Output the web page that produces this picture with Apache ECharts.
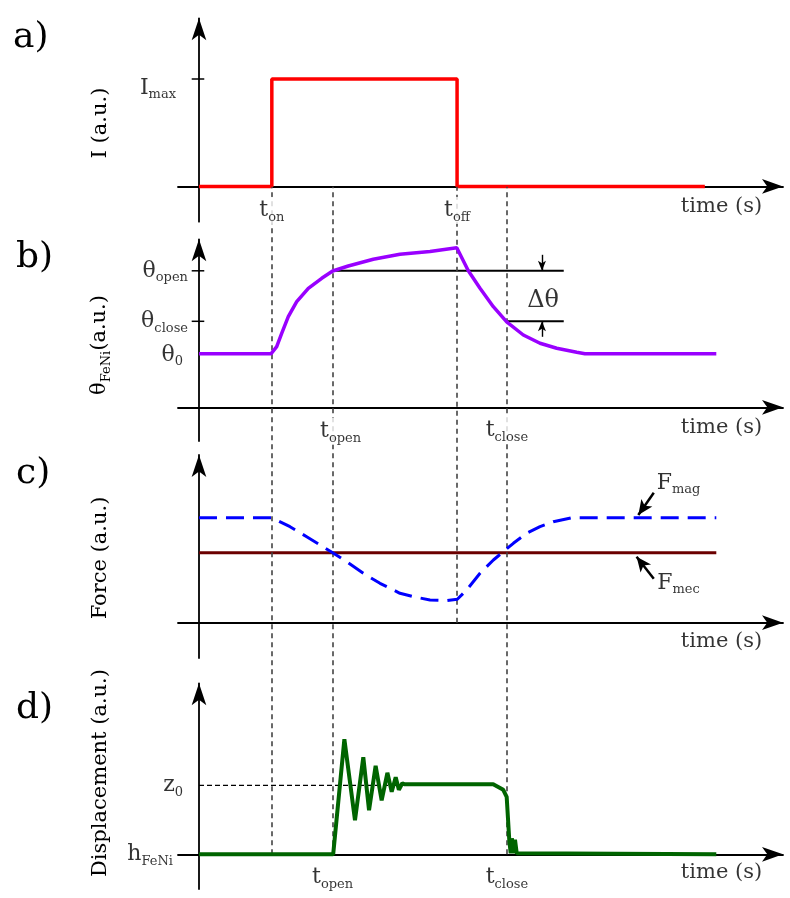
<!DOCTYPE html>
<html><head><meta charset="utf-8">
<script src="https://cdn.jsdelivr.net/npm/echarts@6/dist/echarts.min.js"></script>
<style>html,body{margin:0;padding:0;background:#fff}#c{width:790px;height:898px}</style>
</head><body><div id="c"></div>
<script>
// ---------------- data ----------------
const eventNames = ['on', 'open', 'off', 'close'];
const eventTimes = [12.7, 23.3, 45.0, 53.7];

const currentT = [0, 12.7, 12.7, 45.0, 45.0, 88.2];
const currentI = [0, 0, 1, 1, 0, 0];
const Imax = 1;

const thetaT = [0, 12.55, 13.55, 14.42, 15.57, 17.04, 19.06, 21.4, 23.31, 26.03, 30.39, 35.04, 40.28, 44.95, 46.96, 49.0, 51.32, 53.65, 56.55, 59.46, 62.37, 65.86, 67.3, 90.2];
const thetaV = [5.35, 5.35, 6.06, 7.4, 9.06, 10.56, 11.9, 12.9, 13.63, 14.13, 14.8, 15.3, 15.58, 15.96, 13.66, 11.9, 10.06, 8.55, 7.23, 6.4, 5.9, 5.5, 5.35, 5.35];
const theta0 = 5.35, thetaClose = 8.6, thetaOpen = 13.65;
const thetaLineEnd = 63.6;
const dThetaX = 59.8, dThetaTop = 15.25, dThetaBottom = 7.05;

const fmagT = [0, 12.68, 15.87, 18.78, 21.1, 23.31, 25.75, 28.65, 31.56, 35.04, 37.37, 40.28, 43.19, 45.04, 46.67, 49.0, 51.33, 53.06, 54.81, 57.14, 59.46, 61.78, 64.99, 90.2];
const fmagV = [10.5, 10.5, 9.6, 8.6, 7.77, 7.0, 6.1, 4.94, 3.94, 2.94, 2.6, 2.27, 2.2, 2.34, 3.27, 4.94, 6.27, 7.1, 7.94, 8.94, 9.6, 10.1, 10.5, 10.5];
const fmecT = [0, 90.2];
const fmecV = [7.0, 7.0];
const fmagArrow = [[79.3, 13.0], [76.6, 10.77]];
const fmecArrow = [[79.3, 4.4], [76.3, 6.6]];

const dispT = [0, 23.4, 25.35, 27.2, 28.65, 29.65, 30.8, 31.85, 32.85, 33.6, 34.3, 34.85, 35.45, 35.9, 51.3, 53.05, 53.65, 54.1, 54.35, 54.55, 54.8, 55.1, 55.4, 55.6, 90.2];
const dispV = [0, 0, 11.5, 3.4, 9.7, 4.4, 8.85, 5.4, 8.15, 6.25, 7.7, 6.45, 7.1, 7.0, 7.0, 6.45, 5.75, 1.45, 0.1, 1.6, 0.1, 1.45, 0.1, 0, 0];
const z0 = 6.9, z0LineEnd = 36;

const panelLetters = ['a)', 'b)', 'c)', 'd)'];
const yTitles = ['I (a.u.)', '{m|θ}{s|FeNi}{m|(a.u.)}', 'Force (a.u.)', 'Displacement (a.u.)'];
const xTitle = 'time (s)';
const tLabel = n => '{m|t}{s|' + n + '}';

// ---------------- layout / style ----------------
const FONT = 'DejaVu Serif';
const xMin = -3.66, xMax = 101.83;
const GL = 178, GW = 605;
const panels = [
  {top: 18.3, height: 203.4, min: -0.328, max: 1.564},
  {top: 239.3, height: 201.7, min: -3.37, max: 16.8},
  {top: 455, height: 203, min: -3.53, max: 16.77},
  {top: 683.3, height: 205.7, min: -3.47, max: 17.1},
  {top: 186.7, height: 667.6, min: 0, max: 1},
  {top: 186.7, height: 436, min: 0, max: 1}
];
const R = {
  m: {fontFamily: FONT, fontSize: 22, color: '#000', lineHeight: 27},
  s: {fontFamily: FONT, fontSize: 13, color: '#000', lineHeight: 13, padding: [14, 0, 0, 0]}
};
const RT = {
  m: {fontFamily: FONT, fontSize: 21, color: '#000', lineHeight: 26},
  s: {fontFamily: FONT, fontSize: 13, color: '#000', lineHeight: 13, padding: [13, 0, 0, 0]}
};
const zip = (a, b) => a.map((v, i) => [v, b[i]]);

const grid = panels.map(p => ({left: GL, width: GW, top: p.top, height: p.height}));
const xAxis = panels.map((p, i) => ({
  gridIndex: i, type: 'value', min: xMin, max: xMax, show: i < 4,
  axisLine: {onZero: true, symbol: ['none', 'arrow'], symbolSize: [11, 21], lineStyle: {color: '#000', width: 1.8}},
  axisTick: {show: false}, axisLabel: {show: false}, splitLine: {show: false}
}));
const yAxis = panels.map((p, i) => ({
  gridIndex: i, type: 'value', min: p.min, max: p.max, show: i < 4,
  axisLine: {onZero: true, symbol: ['none', 'arrow'], symbolSize: [11, 22], lineStyle: {color: '#000', width: 1.8}},
  axisTick: {show: false}, axisLabel: {show: false}, splitLine: {show: false}
}));

function seg(gi, pts, color, width, type, z) {
  return {type: 'line', xAxisIndex: gi, yAxisIndex: gi, data: pts, showSymbol: false, symbol: 'none', silent: true,
    clip: false, z: z || 3, lineStyle: {color: color, width: width, type: type || 'solid'}};
}
function arrows(gi, list, size, width) {
  return {type: 'line', xAxisIndex: gi, yAxisIndex: gi, data: [], silent: true, z: 4,
    markLine: {silent: true, animation: false, symbol: ['none', 'arrow'], symbolSize: size, label: {show: false},
      lineStyle: {color: '#000', width: width, type: 'solid'},
      data: list.map(a => [{coord: a[0]}, {coord: a[1]}])}};
}
function lbl(text, x, y, pos, extra) {
  return {value: [x, y], label: Object.assign({show: true, formatter: text, position: pos, rich: R,
    color: '#000', fontFamily: FONT, fontSize: 21}, extra || {})};
}
function labels(gi, items) {
  return {type: 'scatter', xAxisIndex: gi, yAxisIndex: gi, symbolSize: 0, silent: true, z: 10, clip: false, data: items};
}
const WB = {backgroundColor: '#fff', padding: [0, 1]};
function vlines(gi, times) {
  return {type: 'line', xAxisIndex: gi, yAxisIndex: gi, data: [[0, 0.5]], showSymbol: false, symbol: 'none',
    lineStyle: {width: 0, opacity: 0}, silent: true, z: 1,
    markLine: {silent: true, animation: false, symbol: 'none', label: {show: false},
      lineStyle: {type: [5, 4], color: '#444', width: 1.6}, data: times.map(t => ({xAxis: t}))}};
}

const series = [
  vlines(4, [eventTimes[0], eventTimes[1], eventTimes[3]]),
  vlines(5, [eventTimes[2]]),
  // a) current
  seg(0, zip(currentT, currentI), '#ff0000', 3.5),
  seg(0, [[-1.27, Imax], [0.92, Imax]], '#000', 1.5),
  labels(0, [
    lbl('{m|I}{s|max}', 0, Imax, 'left', {distance: 23, offset: [0, 9]}),
    lbl(tLabel(eventNames[0]), eventTimes[0], 0, 'inside', Object.assign({offset: [0, 24]}, WB)),
    lbl(tLabel(eventNames[2]), eventTimes[2], 0, 'inside', Object.assign({offset: [0, 24]}, WB)),
    lbl(xTitle, 98.2, 0, 'left', {distance: 0, offset: [0, 20]})
  ]),
  // b) temperature
  seg(1, [[eventTimes[1], thetaOpen], [thetaLineEnd, thetaOpen]], '#000', 2),
  seg(1, [[eventTimes[3], thetaClose], [thetaLineEnd, thetaClose]], '#000', 2),
  seg(1, [[-1.27, thetaOpen], [0.92, thetaOpen]], '#000', 1.5),
  seg(1, [[-1.27, thetaClose], [0.92, thetaClose]], '#000', 1.5),
  seg(1, zip(thetaT, thetaV), '#9900ff', 3.5, 'solid', 5),
  arrows(1, [[[dThetaX, dThetaTop], [dThetaX, thetaOpen]], [[dThetaX, dThetaBottom], [dThetaX, thetaClose]]], [6, 10], 1.4),
  labels(1, [
    lbl('{m|θ}{s|open}', 0, thetaOpen, 'left', {distance: 11}),
    lbl('{m|θ}{s|close}', 0, thetaClose, 'left', {distance: 11}),
    lbl('{m|θ}{s|0}', 0, theta0, 'left', {distance: 16, offset: [0, 1]}),
    lbl(tLabel(eventNames[1]), eventTimes[1], 0, 'inside', Object.assign({offset: [8, 24]}, WB)),
    lbl(tLabel(eventNames[3]), eventTimes[3], 0, 'inside', Object.assign({offset: [0, 23]}, WB)),
    lbl('Δθ', 60, 10.7, 'inside', {fontSize: 24}),
    lbl(xTitle, 98.2, 0, 'left', {distance: 0, offset: [0, 20]})
  ]),
  // c) forces
  seg(2, zip(fmecT, fmecV), '#6b0000', 3),
  seg(2, zip(fmagT, fmagV), '#0000ff', 3, [18, 9], 5),
  arrows(2, [fmagArrow, fmecArrow], [10, 15], 2.5),
  labels(2, [
    lbl('{m|F}{s|mag}', 79.8, 13.97, 'right', {distance: 0}),
    lbl('{m|F}{s|mec}', 79.9, 3.97, 'right', {distance: 0}),
    lbl(xTitle, 98.2, 0, 'left', {distance: 0, offset: [0, 19]})
  ]),
  // d) displacement
  seg(3, [[0, z0], [z0LineEnd, z0]], '#000', 1.2, [5, 3]),
  seg(3, zip(dispT, dispV), '#006400', 4, 'solid', 5),
  labels(3, [
    lbl('{m|z}{s|0}', 0, z0, 'left', {distance: 16}),
    lbl('{m|h}{s|FeNi}', 0, 0, 'left', {distance: 26}),
    lbl(tLabel(eventNames[1]), eventTimes[1], 0, 'inside', Object.assign({offset: [0, 23]}, WB)),
    lbl(tLabel(eventNames[3]), eventTimes[3], 0, 'inside', Object.assign({offset: [0, 23]}, WB)),
    lbl(xTitle, 98.2, 0, 'left', {distance: 0, offset: [0, 18]})
  ])
];

const letterPos = [[13, 38], [16, 258], [16, 474], [16, 709]];
const titlePos = [[101, 123], [100, 345], [101, 558], [101, 773]];
const graphic = [];
panelLetters.forEach((t, i) => graphic.push({type: 'text', x: letterPos[i][0], y: letterPos[i][1], silent: true,
  style: {text: t, fontSize: 36, fontFamily: FONT, fill: '#000', align: 'left', verticalAlign: 'middle'}}));
yTitles.forEach((t, i) => graphic.push({type: 'text', x: titlePos[i][0], y: titlePos[i][1], rotation: Math.PI / 2, silent: true,
  style: {text: t, rich: RT, fontSize: 21, fontFamily: FONT, fill: '#000', align: 'center', verticalAlign: 'middle'}}));

const chart = echarts.init(document.getElementById('c'), null, {renderer: 'canvas'});
chart.setOption({animation: false, backgroundColor: '#fff', grid, xAxis, yAxis, series, graphic});
</script>
</body></html>
